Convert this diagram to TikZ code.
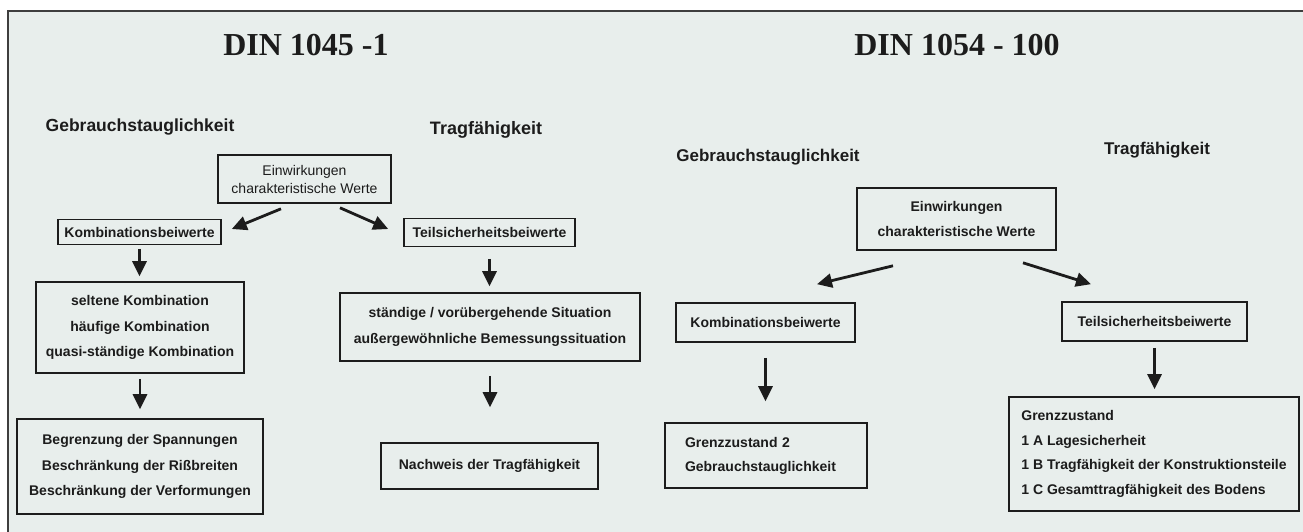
\documentclass[tikz,border=0pt]{standalone}
\usepackage{fontspec}
\setmainfont{Liberation Sans}
\newfontfamily\titlefont{Liberation Serif}
\usetikzlibrary{arrows.meta,calc}

\definecolor{paper}{RGB}{232,238,236}
\definecolor{ink}{RGB}{28,28,28}

\begin{document}
\begin{tikzpicture}[x=1pt,y=-1pt,
    box/.style={draw=ink,line width=1.6pt,inner sep=0pt,align=center,text=ink,font=\fontsize{14}{25.5}\selectfont\bfseries},
    arr/.style={draw=ink,line width=2.8pt,-{Triangle[width=14pt,length=15pt]}},
    head/.style={text=ink,font=\fontsize{17.5}{20}\selectfont\bfseries},
    title/.style={text=ink,font=\titlefont\fontsize{32}{36}\selectfont\bfseries}]
    \useasboundingbox (0,0) rectangle (1303,532);
    \fill[white] (0,0) rectangle (1303,532);
    \fill[paper] (8,11) rectangle (1303,532);
    \draw[ink!85,line width=2pt] (8,532) -- (8,11) -- (1303,11);

    \node[title] (din1) at (306,45) {DIN 1045 -1};
    \node[title] (din2) at (957,45) {DIN 1054 - 100};
    \node[head] (gl1) at (140,127) {Gebrauchstauglichkeit};
    \node[head,font=\fontsize{18}{20}\selectfont\bfseries] (tf1) at (486,130) {Tragfähigkeit};
    \node[head,font=\fontsize{17}{20}\selectfont\bfseries] (gl2) at (768,157) {Gebrauchstauglichkeit};
    \node[head,font=\fontsize{17}{20}\selectfont\bfseries] (tf2) at (1157,150) {Tragfähigkeit};

    \node[box,minimum width=173pt,minimum height=48pt,font=\fontsize{14}{18}\selectfont] (ein1) at (304.5,179) {Einwirkungen\\charakteristische Werte};
    \node[box,minimum width=163pt,minimum height=25pt] (kb1) at (139.5,232) {Kombinationsbeiwerte};
    \node[box,minimum width=171pt,minimum height=28pt] (ts1) at (489.5,232.5) {Teilsicherheitsbeiwerte};
    \node[box,minimum width=208pt,minimum height=91pt] (kmb) at (140,327.5) {seltene Kombination\\häufige Kombination\\quasi-ständige Kombination};
    \node[box,minimum width=246pt,minimum height=95pt] (grz) at (140,466.5) {Begrenzung der Spannungen\\Beschränkung der Rißbreiten\\Beschränkung der Verformungen};
    \node[box,minimum width=300pt,minimum height=68pt,font=\fontsize{14}{26}\selectfont\bfseries] (sit) at (490,327) {ständige / vorübergehende Situation\\außergewöhnliche Bemessungssituation};
    \node[box,minimum width=217pt,minimum height=46pt] (nw1) at (489.5,466) {Nachweis der Tragfähigkeit};

    \node[box,minimum width=199pt,minimum height=62pt,font=\fontsize{14}{25}\selectfont\bfseries] (ein2) at (956.5,219) {Einwirkungen\\charakteristische Werte};
    \node[box,minimum width=179pt,minimum height=39pt] (kb2) at (765.5,322.5) {Kombinationsbeiwerte};
    \node[box,minimum width=185pt,minimum height=39pt] (ts2) at (1154.5,321.5) {Teilsicherheitsbeiwerte};
    \node[box,minimum width=202pt,minimum height=65pt,text width=162pt,align=left,font=\fontsize{14}{24}\selectfont\bfseries] (gz2) at (766,455.5) {Grenzzustand 2\\Gebrauchstauglichkeit};
    \node[box,minimum width=290pt,minimum height=114pt,align=left,font=\fontsize{14}{24.5}\selectfont\bfseries] (gz1) at (1154,454) {Grenzzustand\\1 A Lagesicherheit\\1 B Tragfähigkeit der Konstruktionsteile\\1 C Gesamttragfähigkeit des Bodens};

    \draw[arr] ($(ein1.south)+(-23.5,5)$) -- ($(kb1.east)+(10,-3)$);
    \draw[arr] ($(ein1.south)+(35.5,4)$) -- ($(ts1.west)+(-15,-3.5)$);
    \draw[arr,shorten <=3.5pt,shorten >=5pt] (kb1.south) -- (kb1.south |- kmb.north);
    \draw[arr,shorten <=5pt,shorten >=9pt] (kmb.south) -- (kmb.south |- grz.north);
    \draw[arr,shorten <=11.5pt,shorten >=6pt] (ts1.south) -- (ts1.south |- sit.north);
    \draw[arr,shorten <=14pt,shorten >=35pt] (sit.south) -- (sit.south |- nw1.north);

    \draw[arr] ($(ein2.south)+(-63.5,15)$) -- ($(kb2.north)+(51.5,-18)$);
    \draw[arr] ($(ein2.south)+(66.5,12)$) -- ($(ts2.north)+(-63.5,-17)$);
    \draw[arr,shorten <=15pt,shorten >=21pt] (kb2.south) -- (kb2.south |- gz2.north);
    \draw[arr,shorten <=6pt,shorten >=7pt] (ts2.south) -- (ts2.south |- gz1.north);
\end{tikzpicture}
\end{document}
